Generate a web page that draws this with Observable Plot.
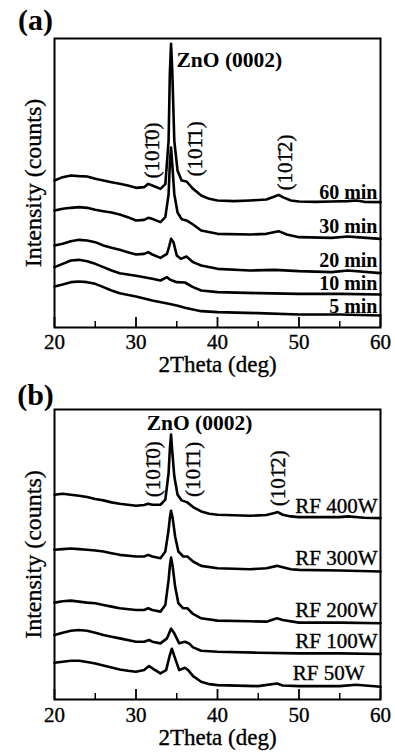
<!DOCTYPE html>
<html><head><meta charset="utf-8">
<script src="https://cdn.jsdelivr.net/npm/d3@7"></script>
<script src="https://cdn.jsdelivr.net/npm/@observablehq/plot@0.6"></script>
<style>
body{margin:0;background:#fff}
#chart svg{display:block}
</style>
</head><body><div id="chart"></div>
<script>
// x axis ticks (2Theta, deg)
const xMajor = [20, 30, 40, 50, 60];
const xMinor = [25, 35, 45, 55];

// ---- Panel (a): deposition time series (intensity, arbitrary counts incl. offset) ----
const a60 = [[20,441],[21,451],[22,456],[23,454],[24,453],[25,446],[26,441],[27,436],[28,431],[29,426],[30,419],[31,421],[31.5,431],[32,426],[33,416],[33.6,430],[34.0,560],[34.15,760],[34.3,851],[34.45,770],[34.7,560],[35.1,470],[35.6,441],[36.2,438],[37,416],[38,396],[39,386],[40,381],[42,379],[44,381],[46,384],[47,393],[47.5,398],[48,391],[49,381],[50,378],[52,377],[54,378],[56,379],[57,381],[58,377],[60,376]];
const a30 = [[20,351],[21,356],[22,359],[23,361],[24,359],[25,353],[26,349],[27,345],[28,339],[29,331],[30,321],[31,323],[31.5,329],[32,326],[33,316],[33.6,331],[34.0,400],[34.15,490],[34.3,540],[34.45,490],[34.7,400],[35.1,345],[35.6,325],[36.3,320],[37,309],[38,291],[40,281],[44,279],[46,281],[47.5,289],[48.5,279],[50,271],[54,269],[56,273],[57,271],[60,266]];
const a20 = [[20,246],[21,251],[22,259],[23,263],[24,261],[25,256],[26,246],[27,239],[28,233],[29,226],[30,219],[31,221],[31.5,226],[32,219],[33,209],[33.8,221],[34.1,246],[34.3,266],[34.6,256],[35,216],[35.5,206],[36.2,213],[37,196],[38,186],[40,176],[44,171],[47,173],[50,169],[54,166],[56,171],[60,163]];
const a10 = [[20,181],[21,191],[22,201],[23,203],[24,199],[25,191],[26,181],[27,171],[28,163],[30,155],[31,151],[32,146],[33,141],[33.8,151],[34.2,143],[35,136],[36,135],[37,121],[38,111],[40,106],[45,103],[50,101],[55,101],[60,99]];
const a5 = [[20,123],[21,129],[22,136],[23,138],[24,136],[25,131],[26,121],[27,111],[28,103],[30,93],[32,81],[34,71],[35,66],[36,59],[38,49],[40,46],[45,43],[50,39],[55,39],[60,36]];
const seriesA = ["60 min", "30 min", "20 min", "10 min", "5 min"];
const labelXA = [60, 60, 60, 60, 60];
const labelYA = [406, 304, 201, 133, 64];

// ---- Panel (b): RF power series ----
const b400 = [[20,613],[21,616],[22,613],[23,610],[24,606],[25,600],[26,596],[27,590],[28,586],[29,583],[30,580],[31,582],[31.5,586],[32,583],[33,583],[33.6,598],[34.0,678],[34.15,748],[34.3,793],[34.45,743],[34.7,668],[35.1,613],[35.6,596],[36.3,590],[37,576],[38,563],[39,556],[40,553],[44,550],[46,552],[47,558],[47.4,561],[48,553],[49,548],[50,546],[55,546],[56,548],[58,544],[60,543]];
const b300 = [[20,448],[21,450],[22,452],[23,450],[24,448],[25,446],[26,443],[27,438],[28,433],[30,428],[31,428],[31.5,433],[32,428],[33,423],[33.6,443],[34.0,508],[34.15,543],[34.3,565],[34.5,543],[34.8,488],[35.2,443],[35.8,428],[36.3,428],[37,413],[38,400],[40,393],[44,390],[46,393],[47.3,400],[48,396],[49,390],[50,388],[55,386],[60,383]];
const b200 = [[20,290],[21,294],[22,296],[23,293],[24,290],[25,288],[26,283],[27,278],[28,273],[30,268],[31,268],[31.5,273],[32,268],[33,263],[33.6,283],[34.0,358],[34.15,398],[34.3,425],[34.5,398],[34.8,338],[35.2,288],[35.8,273],[36.3,273],[37,256],[38,243],[40,236],[44,234],[46,233],[47.3,243],[48,238],[50,230],[55,230],[60,228]];
const b100 = [[20,193],[21,200],[22,206],[23,208],[24,206],[25,200],[26,193],[27,188],[28,183],[30,173],[31,173],[31.6,178],[32,173],[33,168],[33.8,183],[34.3,212],[34.7,198],[35.3,168],[36,173],[36.5,168],[37,156],[38,146],[40,143],[45,140],[50,138],[55,138],[60,136]];
const b50 = [[20,110],[21,113],[22,116],[23,116],[24,112],[25,108],[26,102],[27,96],[28,90],[29,86],[30,83],[31,88],[31.6,100],[32.2,90],[33,78],[33.7,88],[34.1,128],[34.4,152],[34.8,123],[35.3,88],[36,95],[36.4,88],[37,70],[38,53],[39,46],[40,43],[45,40],[47.3,48],[48,42],[50,40],[55,40],[57,44],[60,38]];
const seriesB = ["RF 400W", "RF 300W", "RF 200W", "RF 100W", "RF 50W"];
const labelXB = [60, 60, 60, 60, 58.4];
const labelYB = [578, 423, 268, 173, 78];

// ---- Peak annotations ----
const peakText = ["ZnO (0002)", "(10\u0031\u03040)", "(10\u0031\u03041)", "(10\u0031\u03042)"];
const peakXA = [34.97, 32.0, 37.3, 48.35];
const peakYA = [801, 531, 536, 495];
const peakXB = [37.8, 32.15, 37.05, 47.5];
const peakYB = [827, 689, 689, 662];

const FONT = "'Liberation Serif', 'Times New Roman', Times, serif";
const INK = {fill: "#000", stroke: "#000", strokeWidth: 0.35};

function panel({tag, curves, names, labelX, labelY, labelBold, peakX, peakY, zAnchor, yMax, marginTop, marginBottom, tagDy, tickDy, titleDy}) {
  const rows = curves.flatMap((pts, i) => pts.map(([x, y]) => ({x, y, s: names[i]})));
  const labels = names.map((t, i) => ({t, x: labelX[i], y: labelY[i]}));
  const peaks = peakText.map((t, i) => ({t, x: peakX[i], y: peakY[i]}));
  const frameH = 376 - marginTop - marginBottom;
  return Plot.plot({
    width: 395, height: 376,
    marginLeft: 54, marginRight: 15, marginTop, marginBottom,
    style: {fontFamily: FONT, background: "#fff", color: "#000", overflow: "visible"},
    x: {domain: [20, 60], axis: null},
    y: {domain: [0, yMax], axis: null},
    marks: [
      Plot.line(rows, {x: "x", y: "y", z: "s", stroke: "#000", strokeWidth: 2.6, strokeLinejoin: "round"}),
      Plot.tickX(xMajor, {x: d => d, insetTop: frameH - 10, stroke: "#000", strokeWidth: 1.8}),
      Plot.tickX(xMinor, {x: d => d, insetTop: frameH - 6, stroke: "#000", strokeWidth: 1.5}),
      Plot.frame({stroke: "#000", strokeWidth: 2}),
      Plot.text(xMajor, {x: d => d, text: d => String(d), frameAnchor: "bottom", dy: tickDy, lineAnchor: "middle", fontSize: 21, ...INK}),
      Plot.text(["2Theta (deg)"], {frameAnchor: "bottom", text: d => d, dy: titleDy, textAnchor: "middle", lineAnchor: "middle", fontSize: 23, ...INK}),
      Plot.text(["Intensity (counts)"], {frameAnchor: "left", text: d => d, dx: -21, rotate: -90, textAnchor: "middle", lineAnchor: "middle", fontSize: 24, ...INK}),
      Plot.text([tag], {frameAnchor: "top-left", text: d => d, dx: -19, dy: tagDy, textAnchor: "middle", lineAnchor: "middle", fontSize: 30, fontWeight: "bold", fill: "#000"}),
      Plot.text(labels, {x: "x", y: "y", text: "t", textAnchor: "end", lineAnchor: "middle", dx: -3, fontSize: labelBold ? 20 : 21, fontWeight: labelBold ? "bold" : "normal", ...(labelBold ? {fill: "#000"} : INK)}),
      Plot.text(peaks.slice(0, 1), {x: "x", y: "y", text: "t", textAnchor: zAnchor, lineAnchor: "middle", fontSize: 21.5, fontWeight: "bold", fill: "#000"}),
      Plot.text(peaks.slice(1), {x: "x", y: "y", text: "t", rotate: -90, textAnchor: "middle", lineAnchor: "middle", fontSize: 21, ...INK})
    ]
  });
}

const chart = document.getElementById("chart");
chart.append(panel({tag: "(a)", curves: [a60, a30, a20, a10, a5], names: seriesA, labelX: labelXA, labelY: labelYA, labelBold: true,
  peakX: peakXA, peakY: peakYA, zAnchor: "start", yMax: 867, marginTop: 38, marginBottom: 49, tagDy: -18, tickDy: 15, titleDy: 37}));
chart.append(panel({tag: "(b)", curves: [b400, b300, b200, b100, b50], names: seriesB, labelX: labelXB, labelY: labelYB, labelBold: false,
  peakX: peakXB, peakY: peakYB, zAnchor: "middle", yMax: 868, marginTop: 33, marginBottom: 53, tagDy: -14, tickDy: 16, titleDy: 38}));
</script>
</body></html>
